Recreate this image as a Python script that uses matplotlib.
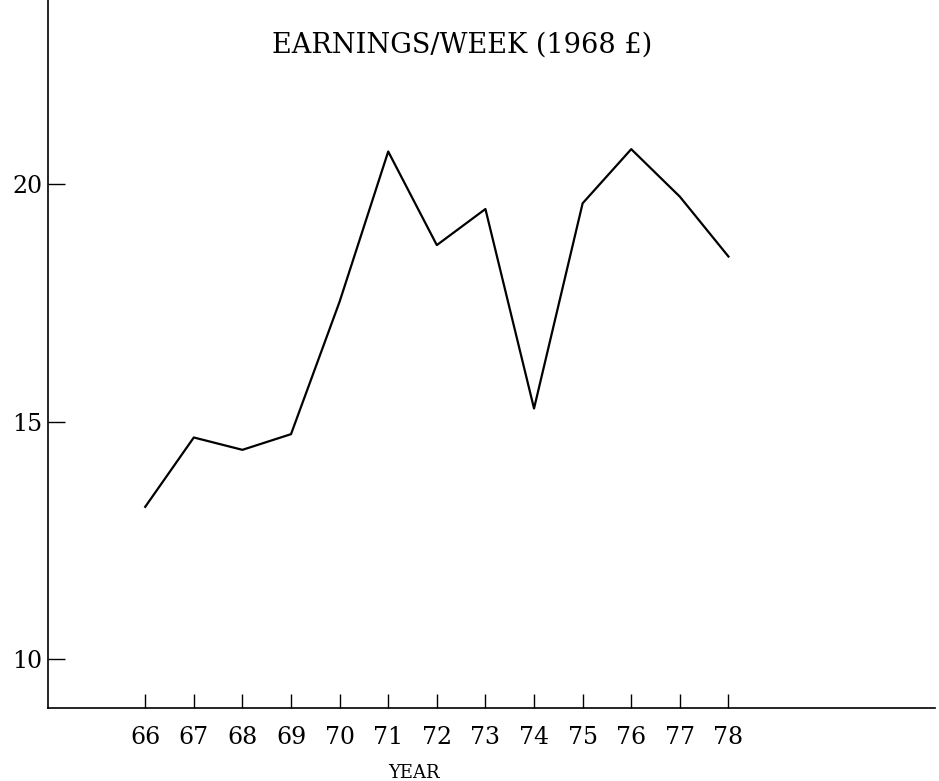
import matplotlib
matplotlib.use("Agg")
from matplotlib import pyplot as plt

# Earnings per week in 1968 pounds
years = [66, 67, 68, 69, 70, 71, 72, 73, 74, 75, 76, 77, 78]
earnings = [13.21, 14.67, 14.41, 14.74, 17.53, 20.69, 18.72,
            19.48, 15.28, 19.60, 20.74, 19.74, 18.48]
y_ticks = [10, 15, 20]

plt.rcParams['font.family'] = ['DejaVu Serif']

fig = plt.figure(figsize=(9.39, 7.81), dpi=100)
ax1 = fig.add_axes([48 / 939, 73 / 781, 887 / 939, 708 / 781])

ax1.plot(years, earnings, color='black', linewidth=1.6)

ax1.set_xlim(64, 82.25)
ax1.set_ylim(8.975, 23.88)

ax1.set_xticks(years)
ax1.set_xticklabels([str(y) for y in years])
ax1.set_yticks(y_ticks)
ax1.set_yticklabels([str(v) for v in y_ticks])

ax1.spines['top'].set_visible(False)
ax1.spines['right'].set_visible(False)
ax1.spines['left'].set_linewidth(1.2)
ax1.spines['bottom'].set_linewidth(1.2)

ax1.tick_params(axis='x', direction='in', length=10, width=1.0,
                pad=13, labelsize=17)
ax1.tick_params(axis='y', direction='in', length=12, width=1.0,
                pad=4, labelsize=17)

# title sits inside the plot area, typed by hand in the original
fig.text(462 / 939, 1 - 45 / 781, "EARNINGS/WEEK (1968 £)",
         ha='center', va='center', fontsize=19.5)
fig.text(414 / 939, 1 - 773 / 781, "YEAR",
         ha='center', va='center', fontsize=13)

fig.savefig("out.png", dpi=100)
